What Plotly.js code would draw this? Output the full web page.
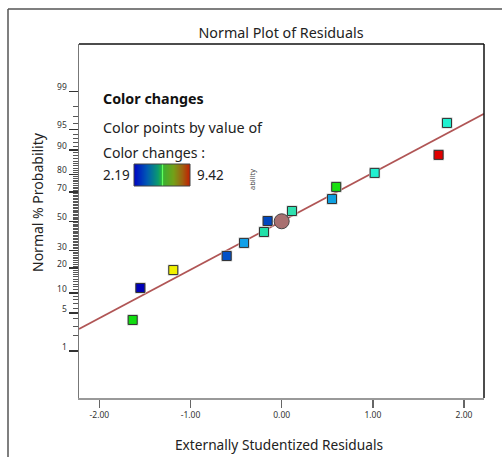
<!DOCTYPE html>
<html>
<head>
<meta charset="utf-8">
<script src="https://cdn.plot.ly/plotly-3.0.1.min.js"></script>
<style>html,body{margin:0;padding:0;background:#fff;overflow:hidden;}#chart{width:502px;height:457px;}</style>
</head>
<body>
<div id="chart"></div>
<script>
// ---- data ----
var residuals = [-1.634, -1.550, -1.189, -0.603, -0.413, -0.194, -0.154, 0.113, 0.552, 0.598, 1.020, 1.721, 1.813];
var probabilities = [3.85, 11.6, 19.1, 26.7, 34.9, 42.4, 50.2, 57.3, 65.5, 73.1, 80.7, 88.3, 96.1];
var pointColors = ['#11dd11', '#0000b8', '#f0f000', '#0050c8', '#10a0e8', '#20e0a8', '#0048c0', '#30e0b0', '#10a0e0', '#18e010', '#20f0d0', '#e00000', '#20f0d0'];
var centerX = [0.0];
var centerP = [50.0];
var fitMean = 0.0;
var fitSd = 1.151;
var lineX = [-2.223, 2.219];
var probTicks = [1, 5, 10, 20, 30, 50, 70, 80, 90, 95, 99];
var xTicks = [-2, -1, 0, 1, 2];
var xTickText = ['-2.00', '-1.00', '0.00', '1.00', '2.00'];
var colorMin = 2.19;
var colorMax = 9.42;

// inverse normal CDF (probability scale transform)
function probit(p) {
  var a = [-3.969683028665376e+01, 2.209460984245205e+02, -2.759285104469687e+02, 1.383577518672690e+02, -3.066479806614716e+01, 2.506628277459239e+00];
  var b = [-5.447609879822406e+01, 1.615858368580409e+02, -1.556989798598866e+02, 6.680131188771972e+01, -1.328068155288572e+01];
  var c = [-7.784894002430293e-03, -3.223964580411365e-01, -2.400758277161838e+00, -2.549732539343734e+00, 4.374664141464968e+00, 2.938163982698783e+00];
  var d = [7.784695709041462e-03, 3.224671290700398e-01, 2.445134137142996e+00, 3.754408661907416e+00];
  var pl = 0.02425, q, r;
  if (p < pl) { q = Math.sqrt(-2 * Math.log(p)); return (((((c[0]*q+c[1])*q+c[2])*q+c[3])*q+c[4])*q+c[5]) / ((((d[0]*q+d[1])*q+d[2])*q+d[3])*q+1); }
  if (p > 1 - pl) { q = Math.sqrt(-2 * Math.log(1 - p)); return -(((((c[0]*q+c[1])*q+c[2])*q+c[3])*q+c[4])*q+c[5]) / ((((d[0]*q+d[1])*q+d[2])*q+d[3])*q+1); }
  q = p - 0.5; r = q * q;
  return (((((a[0]*r+a[1])*r+a[2])*r+a[3])*r+a[4])*r+a[5])*q / (((((b[0]*r+b[1])*r+b[2])*r+b[3])*r+b[4])*r+1);
}
function z(pct) { return probit(pct / 100); }

var minorVals = [];
for (var i = 1; i <= 99; i++) { if (probTicks.indexOf(i) < 0) minorVals.push(z(i)); }

var W = 502, H = 457, L = 79, R = 18, T = 44, B = 59;
var pw = W - L - R, ph = H - T - B;
function px(x) { return (x - L) / pw; }
function py(y) { return (H - B - y) / ph; }

var fitLine = {
  x: lineX, y: lineX.map(function (v) { return (v - fitMean) / fitSd; }),
  mode: 'lines', line: { color: '#b05555', width: 1.8 }, hoverinfo: 'skip', showlegend: false
};
var halo = {
  x: residuals, y: probabilities.map(z), mode: 'markers',
  marker: { symbol: 'square', size: 11, color: '#c8c8c8', line: { width: 0 } }, showlegend: false, hoverinfo: 'skip'
};
var pts = {
  x: residuals, y: probabilities.map(z), mode: 'markers',
  marker: { symbol: 'square', size: 9, color: pointColors, line: { color: '#333', width: 1 } }, showlegend: false
};
var center = {
  x: centerX, y: centerP.map(z), mode: 'markers',
  marker: { symbol: 'circle', size: 15, color: '#a87070', line: { color: '#444', width: 1 } }, showlegend: false
};
var gradient = {
  type: 'heatmap', xaxis: 'x2', yaxis: 'y2',
  x: [colorMin, colorMax], y: [0], z: [[colorMin, colorMax]], zmin: colorMin, zmax: colorMax, zsmooth: 'best', showscale: false, hoverinfo: 'skip',
  colorscale: [[0, '#0008c4'], [0.22, '#0058b4'], [0.42, '#0a9a70'], [0.48, '#28b040'], [0.5, '#60ff60'], [0.52, '#3cb030'], [0.7, '#74a018'], [0.86, '#a06010'], [1, '#c41800']]
};

var font = '"Noto Sans", "Open Sans", sans-serif';
var layout = {
  width: W, height: H,
  margin: { l: L, r: R, t: T, b: B },
  paper_bgcolor: '#fff', plot_bgcolor: '#fff',
  font: { family: font, color: '#222' },
  title: { text: 'Normal Plot of Residuals', x: 281 / W, y: 1 - 33 / H, xanchor: 'center', yanchor: 'middle', font: { size: 14.3, family: font, color: '#222' } },
  xaxis: {
    range: [-2.223, 2.219], tickmode: 'array', tickvals: xTicks, ticktext: xTickText,
    ticks: 'outside', ticklen: 8, tickwidth: 1.5, tickcolor: '#666',
    showline: true, linecolor: '#999', linewidth: 1.5, showgrid: false, zeroline: false,
    tickfont: { size: 8.5, color: '#333', family: font }, fixedrange: true
  },
  yaxis: {
    range: [-3.167, 3.177], tickmode: 'array', tickvals: probTicks.map(z), ticktext: probTicks.map(String),
    ticks: 'outside', ticklen: 9, tickwidth: 1.5, tickcolor: '#333',
    minor: { tickmode: 'array', tickvals: minorVals, ticks: 'outside', ticklen: 5, tickwidth: 1, tickcolor: '#555' },
    showline: true, linecolor: '#777', linewidth: 1.5, showgrid: false, zeroline: false,
    tickfont: { size: 8.5, color: '#333', family: font }, ticklabelshift: -4, fixedrange: true
  },
  xaxis2: { domain: [px(134), px(190)], range: [colorMin, colorMax], anchor: 'y2', visible: false, fixedrange: true },
  yaxis2: { domain: [py(186), py(164)], range: [-0.5, 0.5], anchor: 'x2', visible: false, fixedrange: true },
  shapes: [
    { type: 'line', xref: 'paper', yref: 'paper', x0: 0, x1: 1, y0: 1, y1: 1, line: { color: '#111', width: 1.5 } },
    { type: 'line', xref: 'paper', yref: 'paper', x0: 1, x1: 1, y0: 0, y1: 1, line: { color: '#111', width: 1.5 } },
    { type: 'line', xref: 'paper', yref: 'paper', x0: px(8), x1: px(502), y0: py(9), y1: py(9), line: { color: '#555', width: 1.5 } },
    { type: 'line', xref: 'paper', yref: 'paper', x0: px(8), x1: px(8), y0: py(9), y1: py(457), line: { color: '#555', width: 1.5 } },
    { type: 'rect', xref: 'paper', yref: 'paper', x0: px(134), x1: px(190), y0: py(186), y1: py(164), line: { color: '#444', width: 1 } }
  ],
  annotations: [
    { text: 'Normal % Probability', xref: 'paper', yref: 'paper', x: px(37), y: py(202), textangle: -90, showarrow: false, xanchor: 'center', yanchor: 'middle', font: { size: 14, family: font, color: '#222' } },
    { text: 'Externally Studentized Residuals', xref: 'paper', yref: 'paper', x: px(279), y: py(444), showarrow: false, xanchor: 'center', yanchor: 'middle', font: { size: 13.7, family: font, color: '#222' } },
    { text: '<b>Color changes</b>', xref: 'paper', yref: 'paper', x: px(101), y: py(98), showarrow: false, xanchor: 'left', yanchor: 'middle', font: { size: 14.3, family: font, color: '#111' } },
    { text: 'Color points by value of', xref: 'paper', yref: 'paper', x: px(101), y: py(127), showarrow: false, xanchor: 'left', yanchor: 'middle', font: { size: 14.4, family: font, color: '#222' } },
    { text: 'Color changes :', xref: 'paper', yref: 'paper', x: px(101), y: py(152), showarrow: false, xanchor: 'left', yanchor: 'middle', font: { size: 14.1, family: font, color: '#222' } },
    { text: String(colorMin), xref: 'paper', yref: 'paper', x: px(101), y: py(175), showarrow: false, xanchor: 'left', yanchor: 'middle', font: { size: 13.5, family: font, color: '#222' } },
    { text: String(colorMax), xref: 'paper', yref: 'paper', x: px(195), y: py(175), showarrow: false, xanchor: 'left', yanchor: 'middle', font: { size: 13.5, family: font, color: '#222' } },
    { text: 'ability', xref: 'paper', yref: 'paper', x: px(252), y: py(180), textangle: -90, showarrow: false, xanchor: 'center', yanchor: 'middle', font: { size: 7.5, family: font, color: '#444' } }
  ]
};

Plotly.newPlot('chart', [fitLine, halo, pts, center, gradient], layout, { displayModeBar: false, staticPlot: true });
</script>
</body>
</html>
